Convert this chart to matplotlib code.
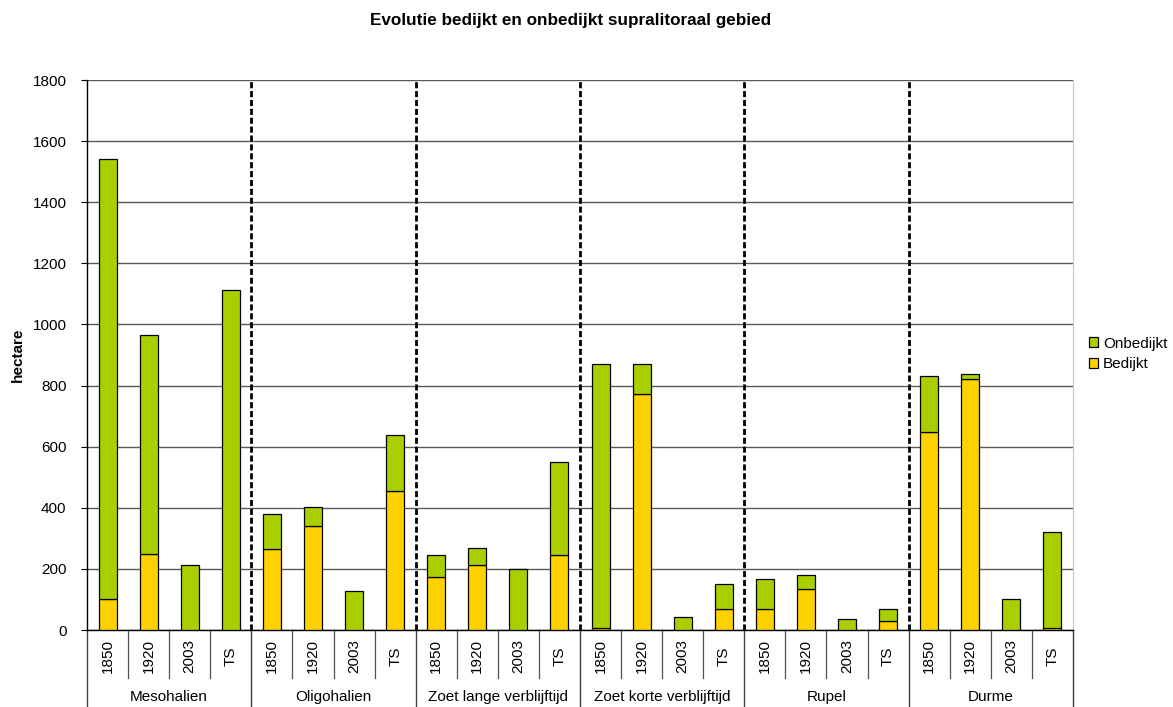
import matplotlib
matplotlib.use("Agg")
import matplotlib.pyplot as plt
import matplotlib.transforms as mtransforms
import numpy as np

plt.rcParams['font.family'] = ['Liberation Sans', 'DejaVu Sans']

groups = ["Mesohalien", "Oligohalien", "Zoet lange verblijftijd",
          "Zoet korte verblijftijd", "Rupel", "Durme"]
periods = ["1850", "1920", "2003", "TS"]

# hectare per group, in the order of `periods`
bedijkt = {
    "Mesohalien":              [103, 250, 0, 0],
    "Oligohalien":             [265, 342, 0, 455],
    "Zoet lange verblijftijd": [175, 212, 0, 245],
    "Zoet korte verblijftijd": [5, 772, 0, 69],
    "Rupel":                   [69, 134, 0, 30],
    "Durme":                   [648, 822, 0, 5],
}
totaal = {
    "Mesohalien":              [1540, 967, 213, 1112],
    "Oligohalien":             [381, 403, 129, 637],
    "Zoet lange verblijftijd": [245, 270, 200, 550],
    "Zoet korte verblijftijd": [870, 870, 44, 150],
    "Rupel":                   [168, 180, 37, 70],
    "Durme":                   [830, 838, 102, 322],
}

yticks = [0, 200, 400, 600, 800, 1000, 1200, 1400, 1600, 1800]

GREEN = "#A9CF00"
YELLOW = "#FDD200"
FS = 11

W, H = 1173, 707
fig = plt.figure(figsize=(W / 100, H / 100), dpi=100)
ax = fig.add_axes([87 / W, 1 - 630 / H, (1073 - 87) / W, (630 - 80) / H])

n_per = len(periods)
bed_vals = np.concatenate([bedijkt[g] for g in groups])
tot_vals = np.concatenate([totaal[g] for g in groups])
onb_vals = tot_vals - bed_vals
x = np.arange(len(bed_vals))
bw = 0.44

ax.bar(x, bed_vals, bw, color=YELLOW, edgecolor="black", linewidth=0.9,
       label="Bedijkt", zorder=3)
ax.bar(x, onb_vals, bw, bottom=bed_vals, color=GREEN, edgecolor="black",
       linewidth=0.9, label="Onbedijkt", zorder=3)

ax.set_xlim(-0.5, len(x) - 0.5)
ax.set_ylim(0, 1800)
ax.set_yticks(yticks)
ax.set_yticklabels([str(v) for v in yticks], fontsize=FS)
ax.tick_params(axis="y", length=4.3, width=0.8, pad=10.5, direction="out")
ax.yaxis.grid(True, color="#5a5a5a", linewidth=1.0, zorder=0)
ax.set_axisbelow(True)
ax.set_xticks([])

ax.spines["top"].set_visible(False)
ax.spines["right"].set_color("#c8c8c8")
ax.spines["left"].set_linewidth(1.0)
ax.spines["bottom"].set_linewidth(1.0)

ax.set_ylabel("hectare", fontsize=FS, fontweight="bold")
ax.yaxis.set_label_coords((25 - 87) / 986, 0.5)

# dashed separators between groups
for k in range(1, len(groups)):
    xb = k * n_per - 0.5
    ax.plot([xb, xb], [0, 1800], color="black", linestyle=(0, (2.2, 1.0)),
            linewidth=2.0, zorder=4)

# two-level category axis below the plot
trans = mtransforms.blended_transform_factory(ax.transData, ax.transAxes)
y_mid_row = -(678 - 630) / 550
y_bottom = -(707 - 630) / 550
for i, lab in enumerate([p for g in groups for p in periods]):
    ax.text(x[i], y_mid_row / 2 - 0.004, lab, rotation=90, ha="center",
            va="center", fontsize=FS, transform=trans)
for i in range(len(x) + 1):
    xb = i - 0.5
    if i % n_per == 0:
        ax.plot([xb, xb], [0, y_bottom], color="#404040", linewidth=1.0,
                transform=trans, clip_on=False)
    else:
        ax.plot([xb, xb], [0, y_mid_row], color="#505050", linewidth=0.9,
                transform=trans, clip_on=False)
for k, g in enumerate(groups):
    xc = k * n_per + (n_per - 1) / 2
    ax.text(xc, -(697 - 630) / 550, g, ha="center", va="center",
            fontsize=FS, transform=trans)

fig.text(571 / W, 1 - 20 / H, "Evolutie bedijkt en onbedijkt supralitoraal gebied",
         ha="center", va="center", fontsize=12.3, fontweight="bold")

handles, labels = ax.get_legend_handles_labels()
leg = fig.legend(handles[::-1], labels[::-1], loc="center left",
                 bbox_to_anchor=(1078 / W, 1 - 354 / H), frameon=False,
                 fontsize=FS, handlelength=0.6, handleheight=0.6,
                 handletextpad=0.35, labelspacing=0.45, borderpad=0.2)

fig.savefig("out.png", dpi=100)
